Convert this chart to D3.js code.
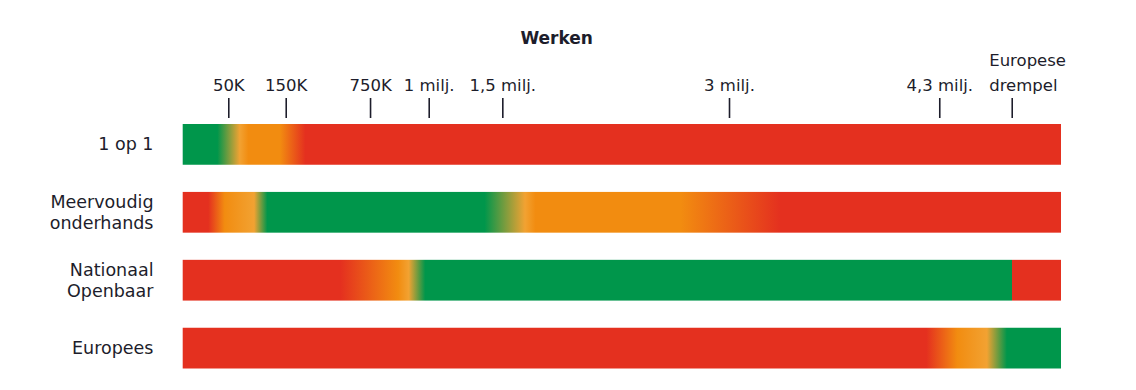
<!DOCTYPE html>
<html>
<head>
<meta charset="utf-8">
<script src="https://cdn.jsdelivr.net/npm/d3@7"></script>
<style>
  body { margin: 0; background: #fff; }
  text { font-family: "DejaVu Sans", sans-serif; fill: #1d1d2b; }
</style>
</head>
<body>
<script>
// drempelbedragen (euro) op de as, en waar de balk ophoudt
var tickAmounts = [50000, 150000, 750000, 1000000, 1500000, 3000000, 4300000, 5350000];
var tickLabels = ["50K", "150K", "750K", "1 milj.", "1,5 milj.", "3 milj.", "4,3 milj.", "Europese drempel"];
var maxAmount = 6000000;

var rows = ["1 op 1", "Meervoudig onderhands", "Nationaal Openbaar", "Europees"];

// kleurverloop per procedure: [bedrag, kleur]  g=groen l=lichtoranje o=oranje r=rood
var stops1op1 = [[0, "g"], [38000, "g"], [70000, "l"], [85000, "o"], [140000, "o"], [290000, "r"], [6000000, "r"]];
var stopsMeervoudig = [[0, "r"], [28000, "r"], [46000, "o"], [95000, "l"], [118000, "g"], [1380000, "g"],
                       [1650000, "l"], [1720000, "o"], [2680000, "o"], [3320000, "r"], [6000000, "r"]];
var stopsNationaal = [[0, "r"], [540000, "r"], [870000, "o"], [915000, "l"], [985000, "g"], [5360000, "g"],
                      [5360000, "r"], [6000000, "r"]];
var stopsEuropees = [[0, "r"], [4220000, "r"], [4560000, "o"], [4990000, "l"], [5280000, "g"], [6000000, "g"]];
var allStops = [stops1op1, stopsMeervoudig, stopsNationaal, stopsEuropees];

var colors = {g: "#00964b", l: "#f2a232", o: "#f28c10", r: "#e4301f"};

var margin = {top: 118, left: 182.7},
    width = 878.3;

// de as is niet lineair: stukjes per drempel (fractie van de balkbreedte)
var axisFrac = [0, 0.0519, 0.1173, 0.2133, 0.2801, 0.3639, 0.6220, 0.8614, 0.9439, 1];

var svg = d3.select("body").append("svg")
    .attr("width", 1136)
    .attr("height", 390);

var x = d3.scaleLinear()
    .domain([0].concat(tickAmounts, [maxAmount]))
    .range(axisFrac.map(function(f) { return f * width; }));

var y = d3.scaleBand()
    .domain(rows)
    .range([124, 368.5])
    .paddingInner(0.4)
    .paddingOuter(0);

svg.append("text")
    .attr("x", 556.7)
    .attr("y", 44)
    .attr("text-anchor", "middle")
    .style("font-size", "17px")
    .style("font-weight", "bold")
    .text("Werken");

var axis = svg.append("g")
    .attr("transform", "translate(" + margin.left + "," + margin.top + ")")
    .call(d3.axisTop(x)
      .tickValues(tickAmounts)
      .tickFormat(function(d, i) { return tickLabels[i]; })
      .tickSize(20)
      .tickPadding(7));

axis.select(".domain").remove();
axis.selectAll(".tick line").attr("stroke", "#1d1d2b").attr("stroke-width", 1.6);
axis.selectAll(".tick text")
    .attr("fill", "#1d1d2b")
    .style("font-size", "16.5px")
    .style("font-family", "'DejaVu Sans', sans-serif");

// laatste label op twee regels, links uitgelijnd
var last = axis.selectAll(".tick text").filter(function(d) { return d === 5350000; });
last.text(null).attr("text-anchor", "start");
last.append("tspan").attr("x", -23).attr("dy", "-1.5em").text("Europese");
last.append("tspan").attr("x", -23).attr("dy", "1.5em").text("drempel");

var defs = svg.append("defs");
allStops.forEach(function(st, i) {
  var grad = defs.append("linearGradient")
      .attr("id", "grad" + i)
      .attr("gradientUnits", "userSpaceOnUse")
      .attr("x1", 0).attr("x2", width)
      .attr("y1", 0).attr("y2", 0);
  grad.selectAll("stop")
      .data(st)
      .enter().append("stop")
      .attr("offset", function(d) { return x(d[0]) / width; })
      .attr("stop-color", function(d) { return colors[d[1]]; });
});

var g = svg.append("g")
    .attr("transform", "translate(" + margin.left + ",0)");

g.selectAll(".bar")
    .data(rows)
    .enter().append("rect")
    .attr("class", "bar")
    .attr("x", 0)
    .attr("y", function(d) { return y(d); })
    .attr("width", x(maxAmount))
    .attr("height", y.bandwidth())
    .attr("fill", function(d, i) { return "url(#grad" + i + ")"; });

// rijlabels, rechts uitgelijnd, evt. twee regels
svg.selectAll(".rowlabel")
    .data(rows)
    .enter().append("text")
    .attr("class", "rowlabel")
    .attr("text-anchor", "end")
    .style("font-size", "17.5px")
    .each(function(d) {
      var lines = d === "1 op 1" ? [d] : d.split(" ");
      var cy = y(d) + y.bandwidth() / 2;
      var t = d3.select(this);
      lines.forEach(function(l, j) {
        t.append("tspan")
          .attr("x", 153.5)
          .attr("y", cy + (lines.length === 1 ? 6 : -4 + j * 21))
          .text(l);
      });
    });
</script>
</body>
</html>
